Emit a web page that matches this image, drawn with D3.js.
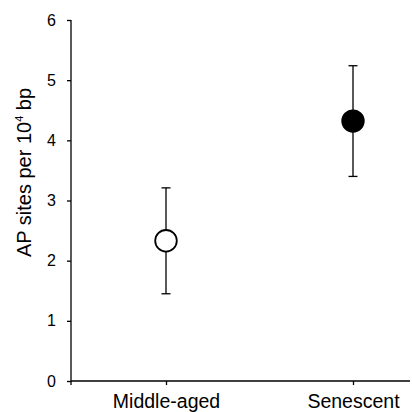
<!DOCTYPE html>
<html>
<head>
<meta charset="utf-8">
<script src="https://cdn.jsdelivr.net/npm/d3@7"></script>
<style>
  body { margin: 0; background: #fff; }
  text { font-family: "Liberation Sans", Arial, sans-serif; fill: #000; }
</style>
</head>
<body>
<svg id="chart" width="412" height="412"></svg>
<script>
// данные
let categories = ["Middle-aged", "Senescent"];
let means = [2.33, 4.32];
let upper = [3.21, 5.24];
let lower = [1.45, 3.40];
let fills = ["#fff", "#000"];
let yTicks = [0, 1, 2, 3, 4, 5, 6];

let svg = d3.select("#chart");

let plotLeft = 71, plotRight = 410, plotTop = 20, plotBottom = 381;

// шкалы
let scaleY = d3.scaleLinear().domain([0, 6]).range([plotBottom, plotTop]);
let scaleX = d3.scalePoint().domain(categories).range([166, 353]);

// ось Y
let axisY = d3.axisLeft(scaleY).tickValues(yTicks).tickFormat(d3.format("d"))
    .tickSize(4).tickSizeOuter(0).tickPadding(11);
let gy = svg.append("g")
    .attr("transform", `translate(${plotLeft},0)`)
    .call(axisY);
gy.select(".domain").remove();
gy.selectAll(".tick line").attr("stroke", "#000").attr("stroke-width", 1.3);
gy.selectAll("text").style("font-size", "16px").attr("font-family", null).attr("fill", "#000");
svg.append("line")
    .attr("x1", plotLeft).attr("x2", plotLeft)
    .attr("y1", plotTop).attr("y2", plotBottom + 4)
    .attr("stroke", "#000").attr("stroke-width", 1.3);

// ось X
let axisX = d3.axisBottom(scaleX).tickSize(4).tickSizeOuter(0).tickPadding(9);
let gx = svg.append("g")
    .attr("transform", `translate(0,${plotBottom})`)
    .call(axisX);
gx.select(".domain").remove();
gx.selectAll(".tick line").attr("stroke", "#000").attr("stroke-width", 1.3);
gx.selectAll("text").style("font-size", "19.5px").attr("font-family", null).attr("fill", "#000");
svg.append("line")
    .attr("x1", plotLeft).attr("x2", plotRight)
    .attr("y1", plotBottom).attr("y2", plotBottom)
    .attr("stroke", "#000").attr("stroke-width", 1.3);

// подпись оси Y
let label = svg.append("text")
    .attr("transform", `translate(31,${(86 + 259) / 2}) rotate(-90)`)
    .attr("text-anchor", "middle")
    .style("font-size", "20px");
label.append("tspan").text("AP sites per 10");
label.append("tspan").text("4").attr("dy", -8).style("font-size", "11px");
label.append("tspan").text(" bp").attr("dy", 8);

// планки погрешностей
let idx = d3.range(categories.length);
let capW = 4.5;
let bars = svg.append("g").attr("stroke", "#000").attr("stroke-width", 1.3);
bars.selectAll(".v").data(idx).enter().append("line")
    .attr("x1", i => scaleX(categories[i])).attr("x2", i => scaleX(categories[i]))
    .attr("y1", i => scaleY(upper[i])).attr("y2", i => scaleY(lower[i]));
bars.selectAll(".top").data(idx).enter().append("line")
    .attr("x1", i => scaleX(categories[i]) - capW).attr("x2", i => scaleX(categories[i]) + capW)
    .attr("y1", i => scaleY(upper[i])).attr("y2", i => scaleY(upper[i]));
bars.selectAll(".bot").data(idx).enter().append("line")
    .attr("x1", i => scaleX(categories[i]) - capW).attr("x2", i => scaleX(categories[i]) + capW)
    .attr("y1", i => scaleY(lower[i])).attr("y2", i => scaleY(lower[i]));

// точки
svg.selectAll(".dot").data(idx).enter().append("circle")
    .attr("cx", i => scaleX(categories[i]))
    .attr("cy", i => scaleY(means[i]))
    .attr("r", 10.8)
    .attr("fill", i => fills[i])
    .attr("stroke", "#000")
    .attr("stroke-width", 1.8);
</script>
</body>
</html>
